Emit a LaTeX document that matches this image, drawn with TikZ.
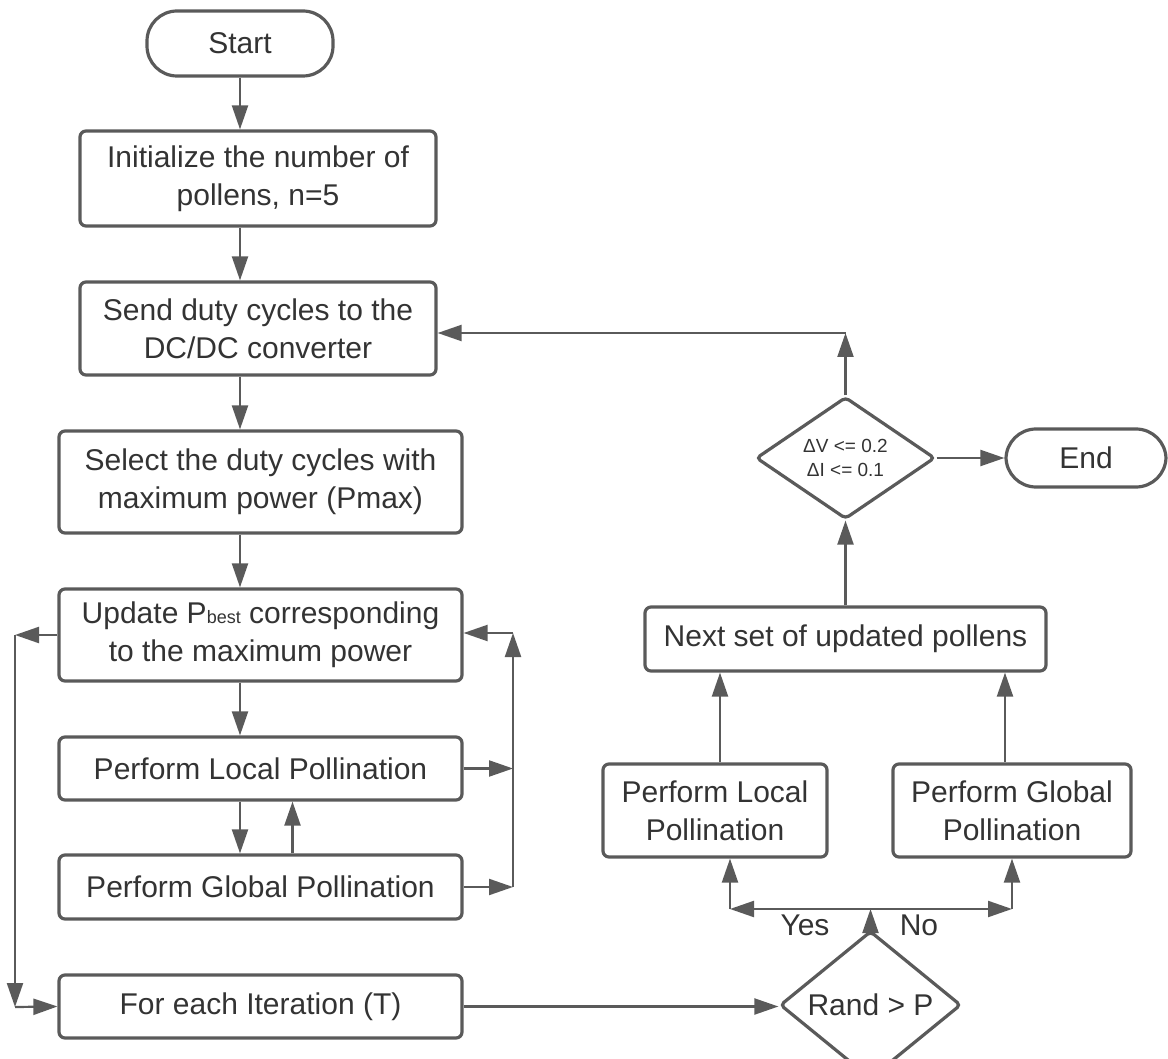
\documentclass[tikz,border=0pt]{standalone}
\usepackage{fontspec}
\setmainfont{Liberation Sans}
\usepackage{tikz}
\usetikzlibrary{shapes.geometric, arrows.meta}
\definecolor{linegray}{HTML}{5A5A5A}
\definecolor{textgray}{HTML}{333333}
\tikzstyle{process} = [rectangle, rounded corners=3pt, inner sep=0pt, align=center, draw=linegray, line width=1.6pt, text=textgray]
\tikzstyle{terminal} = [rectangle, rounded corners=15pt, inner sep=0pt, align=center, draw=linegray, line width=1.6pt, text=textgray]
\tikzstyle{decision} = [diamond, rounded corners=2pt, inner sep=0pt, align=center, draw=linegray, line width=1.6pt, text=textgray]
\tikzstyle{branch} = [inner sep=0pt, text=textgray]
\tikzstyle{arrow} = [line width=1.1pt, draw=linegray, -{Triangle[length=12pt,width=8pt]}]

\begin{document}
\begin{tikzpicture}[x={(0.5pt,0)}, y={(0,-0.5pt)}, font=\fontsize{15}{19}\selectfont]
        \useasboundingbox (0,0) rectangle (1168,1059);
        \node (start) [terminal, minimum width=93pt, minimum height=32.5pt] at (240,43.5) {Start};
        \node (init) [process, minimum width=178pt, minimum height=47.5pt] at (258,178.5) {Initialize the number of\\pollens, n=5};
        \node (send) [process, minimum width=178pt, minimum height=46.5pt] at (258,328.5) {Send duty cycles to the\\DC/DC converter};
        \node (select) [process, minimum width=201.5pt, minimum height=51pt] at (260.5,482) {Select the duty cycles with\\maximum power (Pmax)};
        \node (update) [process, minimum width=201.5pt, minimum height=46pt] at (260.5,635) {Update P{\fontsize{9}{9}\selectfont best} corresponding\\to the maximum power};
        \node (local) [process, minimum width=201.5pt, minimum height=31.5pt] at (260.5,768.5) {Perform Local Pollination};
        \node (global) [process, minimum width=201.5pt, minimum height=32pt] at (260.5,887) {Perform Global Pollination};
        \node (iter) [process, minimum width=201.5pt, minimum height=31.5pt] at (260.5,1006.5) {For each Iteration (T)};
        \node (rand) [decision, minimum width=90.5pt, minimum height=54pt] at (870.5,1005) {Rand > P};
        \node (rlocal) [process, minimum width=112pt, minimum height=46.5pt] at (715,810.5) {Perform Local\\Pollination};
        \node (rglobal) [process, minimum width=119pt, minimum height=46.5pt] at (1012,810.5) {Perform Global\\Pollination};
        \node (next) [process, minimum width=200.5pt, minimum height=32pt] at (845.5,639) {Next set of updated pollens};
        \node (check) [decision, minimum width=89.5pt, minimum height=54pt, font=\fontsize{9.5}{12}\selectfont] at (845.5,458) {ΔV <= 0.2\\ΔI <= 0.1};
        \node (end) [terminal, minimum width=80pt, minimum height=29pt] at (1086,458) {End};
        \node (yes) [branch] at (805,925) {Yes};
        \node (no) [branch] at (919,925) {No};
        \coordinate (rtop) at (513,633);
        \coordinate (ltop) at (15,635);
        \coordinate (lbot) at (15,1007);
        \coordinate (fork) at (870.5,909);
        \coordinate (forkl) at (730,909);
        \coordinate (forkr) at (1012,909);
        \coordinate (back) at (845.5,333);
        \draw [arrow] (start.south) -- (start.south |- init.north);
        \draw [arrow] (init.south -| start) -- (send.north -| start);
        \draw [arrow] (send.south -| start) -- (select.north -| start);
        \draw [arrow] (select.south -| start) -- (update.north -| start);
        \draw [arrow] (update.south -| start) -- (local.north -| start);
        \draw [arrow] (local.south -| start) -- (global.north -| start);
        \draw [arrow] ([xshift=16pt]global.north) -- ([xshift=16pt]local.south);
        \draw [arrow] (local.east) -- (local.east -| rtop);
        \draw [arrow] (global.east) -- (global.east -| rtop);
        \draw [arrow] (global.east -| rtop) -- (rtop);
        \draw [arrow] (rtop) -- (rtop -| update.east);
        \draw [arrow] (update.west) -- (ltop);
        \draw [arrow] (ltop) -- (lbot);
        \draw [arrow] (lbot) -- (iter.west);
        \draw [arrow] (iter.east) -- (iter.east -| rand.west);
        \draw [arrow] (rand.north) -- (fork);
        \draw [arrow] (fork) -- (forkl);
        \draw [arrow] (fork) -- (forkr);
        \draw [arrow] (forkl) -- (forkl |- rlocal.south);
        \draw [arrow] (forkr) -- (forkr |- rglobal.south);
        \draw [arrow] ([xshift=2.5pt]rlocal.north) -- ([xshift=2.5pt]rlocal.north |- next.south);
        \draw [arrow] ([xshift=-3.5pt]rglobal.north) -- ([xshift=-3.5pt]rglobal.north |- next.south);
        \draw [arrow] (next.north) -- (check.south);
        \draw [arrow] (check.north) -- (back);
        \draw [arrow] (back) -- (back -| send.east);
        \draw [arrow] (check.east) -- (end.west);
      \end{tikzpicture}
\end{document}
